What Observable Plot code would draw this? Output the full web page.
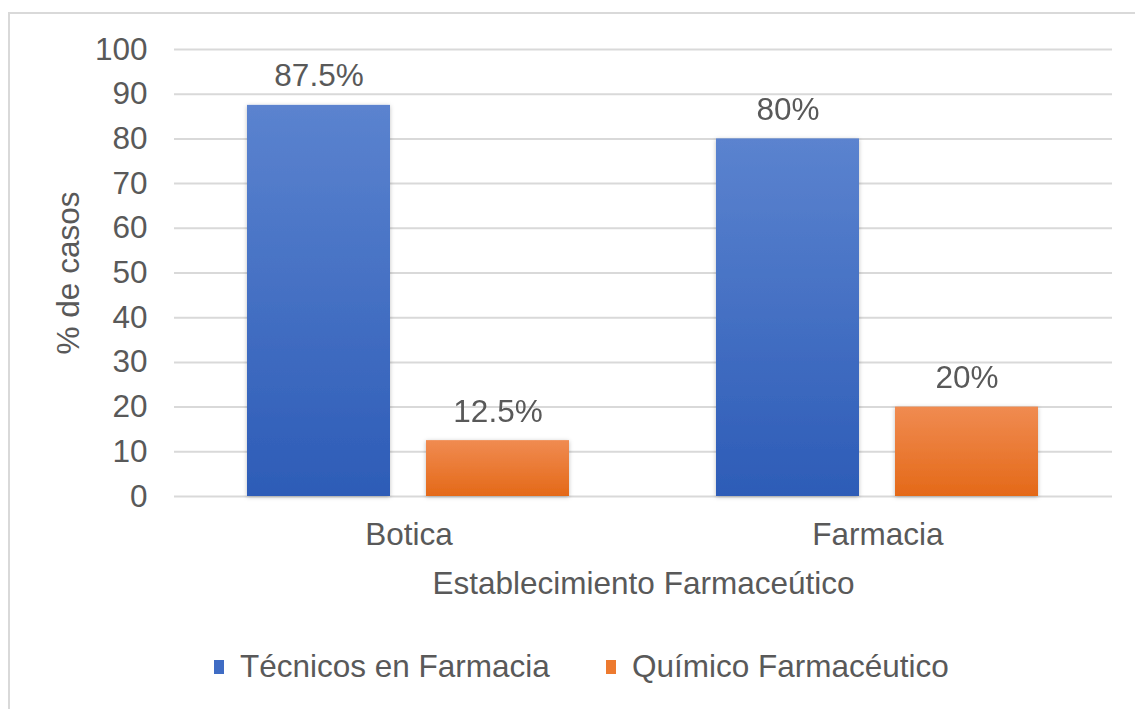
<!DOCTYPE html>
<html>
<head>
<meta charset="utf-8">
<script src="https://cdn.jsdelivr.net/npm/d3@7"></script>
<script src="https://cdn.jsdelivr.net/npm/@observablehq/plot@0.6"></script>
<style>
  html, body { margin: 0; padding: 0; background: #fff; width: 1135px; height: 709px; overflow: hidden; }
  #wrap { position: relative; width: 1135px; height: 709px; font-family: "Liberation Sans", Arial, sans-serif; color: #595959; }
  #frame { position: absolute; left: 8px; top: 12px; width: 1200px; height: 800px; border-left: 2px solid #d9d9d9; border-top: 2px solid #d9d9d9; box-sizing: border-box; }
  #chart { position: absolute; left: 0; top: 0; }
  #legend { position: absolute; top: 648px; left: 0; width: 1135px; height: 40px; font-size: 31.5px; white-space: nowrap; }
  .item { position: absolute; top: 0; display: flex; align-items: center; }
  .sw { width: 10px; height: 14px; margin-right: 16px; }
</style>
</head>
<body>
<div id="wrap">
  <div id="frame"></div>
  <div id="chart"></div>
  <div id="legend"></div>
</div>
<script>
const categories = ["Botica", "Farmacia"];
const series = ["Técnicos en Farmacia", "Químico Farmacéutico"];
const tecnicos = [87.5, 80];
const quimico = [12.5, 20];
const valueLabels = [["87.5%", "12.5%"], ["80%", "20%"]];
const yTicks = [0, 10, 20, 30, 40, 50, 60, 70, 80, 90, 100];
const seriesColors = ["#3f6cc4", "#ed7a2f"];
const legendLeft = [214, 606];

const data = categories.flatMap((c, i) => [
  {cat: c, serie: series[0], value: tecnicos[i], label: valueLabels[i][0]},
  {cat: c, serie: series[1], value: quimico[i], label: valueLabels[i][1]}
]);

const chart = Plot.plot({
  width: 1135,
  height: 610,
  marginTop: 49,
  marginBottom: 114,
  marginLeft: 173,
  marginRight: 23,
  style: {fontFamily: "'Liberation Sans', Arial, sans-serif", fontSize: "31.5px", color: "#595959", background: "transparent", overflow: "visible"},
  fx: {domain: categories, padding: 0, label: "Establecimiento Farmaceútico", labelAnchor: "center", tickSize: 0, tickPadding: 26, labelOffset: 97},
  x: {domain: series, paddingInner: 0.2, paddingOuter: 0.404, axis: null},
  y: {domain: [0, 100], ticks: yTicks, tickSize: 0, tickPadding: 27, label: "% de casos", labelAnchor: "center", labelOffset: 118, labelArrow: false},
  color: {domain: series, range: ["url(#gBlue)", "url(#gOrange)"]},
  marks: [
    Plot.ruleY(yTicks, {stroke: "#d9d9d9", strokeWidth: 2}),
    Plot.barY(data, {fx: "cat", x: "serie", y: "value", fill: "serie"}),
    Plot.text(data, {fx: "cat", x: "serie", y: "value", text: "label", lineAnchor: "bottom", dy: -19, fill: "#595959", fontSize: 31.5})
  ]
});

const svg = d3.select(chart.tagName.toLowerCase() === "svg" ? chart : chart.querySelector("svg"));
const defs = svg.insert("defs", ":first-child");
function grad(id, top, bottom) {
  const g = defs.append("linearGradient").attr("id", id).attr("x1", 0).attr("y1", 0).attr("x2", 0).attr("y2", 1);
  g.append("stop").attr("offset", "0%").attr("stop-color", top);
  g.append("stop").attr("offset", "100%").attr("stop-color", bottom);
}
grad("gBlue", "#5b83cf", "#2d5cb7");
grad("gOrange", "#f08b51", "#e46918");
const f = defs.append("filter").attr("id", "shadow").attr("x", "-10%").attr("y", "-10%").attr("width", "120%").attr("height", "120%");
f.append("feDropShadow").attr("dx", 0).attr("dy", 1).attr("stdDeviation", 2).attr("flood-color", "#000").attr("flood-opacity", 0.25);
svg.selectAll("g[aria-label='bar']").attr("filter", "url(#shadow)");

document.getElementById("chart").appendChild(chart);

const legend = document.getElementById("legend");
series.forEach((s, i) => {
  const item = document.createElement("div");
  item.className = "item";
  item.style.left = legendLeft[i] + "px";
  const sw = document.createElement("div");
  sw.className = "sw";
  sw.style.background = seriesColors[i];
  const t = document.createElement("span");
  t.textContent = s;
  item.appendChild(sw);
  item.appendChild(t);
  legend.appendChild(item);
});
</script>
</body>
</html>
